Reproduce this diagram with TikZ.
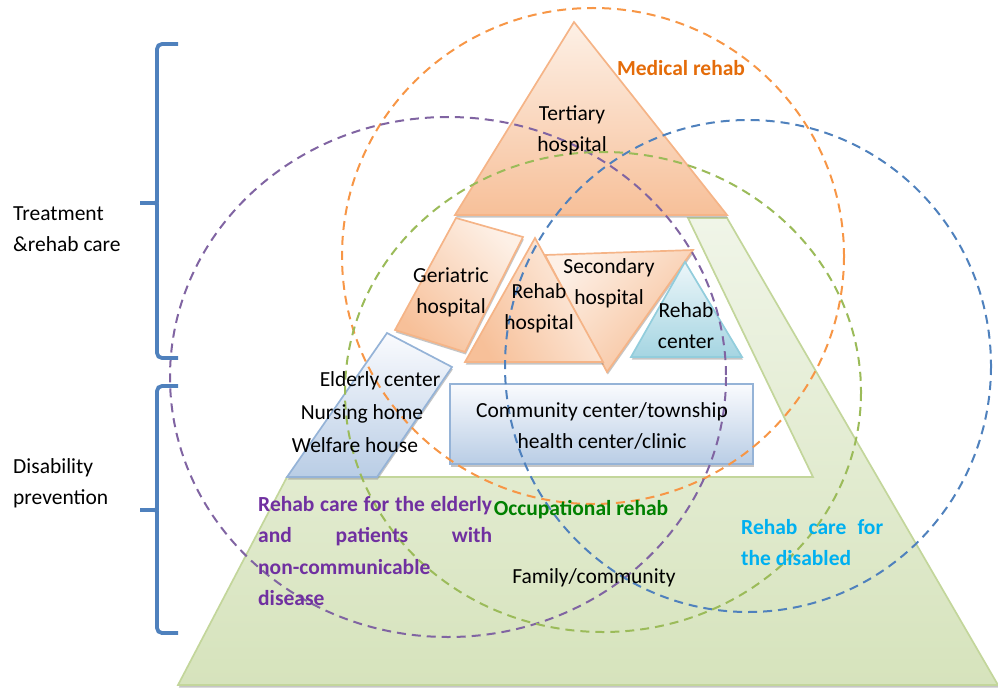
\documentclass[tikz,border=0pt]{standalone}
\usepackage{fontspec}
\setmainfont{Carlito}
\usetikzlibrary{shadows}

\definecolor{hospline}{RGB}{245,180,135}
\definecolor{hosplight}{RGB}{253,240,230}
\definecolor{hospdark}{RGB}{247,192,153}
\definecolor{centreline}{RGB}{146,205,220}
\definecolor{centrelight}{RGB}{236,246,249}
\definecolor{centredark}{RGB}{165,213,226}
\definecolor{commline}{RGB}{149,179,215}
\definecolor{commlight}{RGB}{250,251,254}
\definecolor{commdark}{RGB}{185,205,229}
\definecolor{baseline}{RGB}{195,214,155}
\definecolor{baselight}{RGB}{240,245,232}
\definecolor{basedark}{RGB}{214,227,188}
\definecolor{ringorange}{RGB}{247,150,70}
\definecolor{ringviolet}{RGB}{128,100,162}
\definecolor{ringblue}{RGB}{79,129,189}
\definecolor{ringgreen}{RGB}{155,187,89}
\definecolor{medtext}{RGB}{228,108,10}
\definecolor{eldtext}{RGB}{112,48,160}
\definecolor{occtext}{RGB}{0,128,0}
\definecolor{distext}{RGB}{0,176,240}

\begin{document}
\begin{tikzpicture}[x=1pt,y=-1pt,
		every node/.style={font=\fontsize{21.5}{31}\selectfont, inner sep=0pt},
		tier/.style={line width=1.7pt, line join=miter,
			drop shadow={shadow xshift=0.8pt, shadow yshift=-2.5pt, fill=black!45, opacity=.5}},
		hosp/.style={tier, draw=hospline, top color=hosplight, bottom color=hospdark},
		ring/.style={line width=2pt, dash pattern=on 9pt off 6pt},
		brace/.style={draw=ringblue, line width=3.8pt, rounded corners=5pt},
		care/.style={font=\fontsize{21.5}{31.5}\selectfont\bfseries}]
	\useasboundingbox (0,0) rectangle (998,690);

	\path[tier, draw=baseline, top color=baselight, bottom color=basedark]
		(688,218) -- (727,218) -- (998,685) -- (178,685) -- (287,477) -- (813,477) -- cycle;
	\path[tier, draw=commline, top color=commlight, bottom color=commdark]
		(387,333) -- (452,367) -- (377,477) -- (287,477) -- cycle;
	\path[tier, draw=commline, top color=commlight, bottom color=commdark]
		(450,384) rectangle (753,464);

	\path[hosp] (574,22) -- (727,215) -- (455,215) -- cycle;
	\path[hosp, shading angle=-45] (456,218) -- (523,237) -- (465,352) -- (395,330) -- cycle;
	\path[hosp, shading angle=45] (545,255) -- (693,250) -- (607,372) -- cycle;
	\path[hosp, shading angle=-60] (535,238) -- (603,362) -- (465,362) -- cycle;
	\path[tier, draw=centreline, top color=centrelight, bottom color=centredark]
		(685,262) -- (742,357) -- (631,357) -- cycle;

	\draw[ring, ringorange] (593,256) ellipse [x radius=251, y radius=248];
	\draw[ring, ringviolet] (448,377) ellipse [x radius=278, y radius=260];
	\draw[ring, ringblue] (748,366) ellipse [x radius=243, y radius=246];
	\draw[ring, ringgreen] (603,392) ellipse [x radius=258, y radius=240];

	\draw[brace] (178,44) -- (157,44) -- (157,197) .. controls (157,203) .. (140,203);
	\draw[brace] (140,203) .. controls (157,203) .. (157,209) -- (157,358) -- (178,358);
	\draw[brace] (178,386) -- (157,386) -- (157,504) .. controls (157,510) .. (140,510);
	\draw[brace] (140,510) .. controls (157,510) .. (157,516) -- (157,633) -- (178,633);

	\node (treat) [anchor=west, align=left] at (13,229) {Treatment\\\&rehab care};
	\node (prevent) [anchor=west, align=left] at (13,483) {Disability\\prevention};

	\node (tertiary) [align=center] at (572,130) {Tertiary\\hospital};
	\node (geriatric) [align=center] at (451,292) {Geriatric\\hospital};
	\node (rehabhosp) [align=center] at (539,308) {Rehab\\hospital};
	\node (secondary) [align=center] at (609,283) {Secondary\\hospital};
	\node (rehabcentre) [align=center] at (686,326) {Rehab\\center};
	\node (elderly) at (380,381) {Elderly center};
	\node (nursing) at (362,414) {Nursing home};
	\node (welfare) at (355,445) {Welfare house};
	\node (community) [align=center] at (602,426) {Community center/township\\health center/clinic};
	\node (family) at (594,578) {Family/community};

	\node (medical) [care, text=medtext] at (681,68) {Medical rehab};
	\node (occupational) [care, text=occtext] at (581,510) {Occupational rehab};
	\node (eldercare) [care, text=eldtext, anchor=north west, align=left] at (258,496)
		{\makebox[234pt][s]{Rehab care for the elderly}\\\makebox[234pt][s]{and patients with}\\non-communicable\\disease};
	\node (disabledcare) [care, text=distext, anchor=north west, align=left] at (741,519)
		{\makebox[142pt][s]{Rehab care for}\\the disabled};
\end{tikzpicture}
\end{document}
